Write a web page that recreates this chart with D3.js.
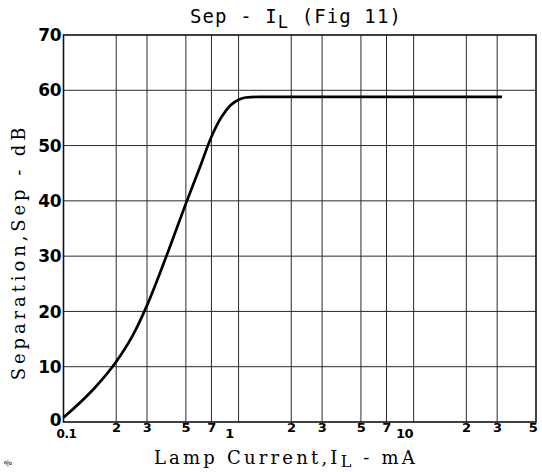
<!DOCTYPE html>
<html><head><meta charset="utf-8">
<script src="https://cdn.jsdelivr.net/npm/d3@7"></script>
<style>
html,body{margin:0;padding:0;background:#fff;overflow:hidden;}
svg{display:block;}
</style></head>
<body>
<svg id="chart" width="542" height="472"></svg>
<script>
// ---- data ----
const currentMA = [0.1, 0.15, 0.2, 0.25, 0.3, 0.4, 0.5, 0.6, 0.7, 0.8, 0.9, 1.0, 1.1, 1.3, 3, 10, 32];
const separationDB = [0.8, 6.1, 10.9, 15.8, 21.1, 31.2, 39.5, 46.0, 51.6, 55.2, 57.3, 58.3, 58.7, 58.8, 58.8, 58.8, 58.8];
const xTicks = [0.1, 0.2, 0.3, 0.5, 0.7, 1, 2, 3, 5, 7, 10, 20, 30, 50];
const xTickLabels = ["0.1", "2", "3", "5", "7", "1", "2", "3", "5", "7", "10", "2", "3", "5"];
const yTicks = [0, 10, 20, 30, 40, 50, 60, 70];
const yTickLabels = ["0", "10", "20", "30", "40", "50", "60", "70"];
const titleText = ["Sep - I", "L", " (Fig 11)"];
const xTitle = ["Lamp Current,I", "L", " - mA"];
const yTitle = "Separation,Sep - dB";

// ---- chart ----
const svg = d3.select("#chart");
const x = d3.scaleLog().domain([0.1, 50]).range([63.5, 536]);
const y = d3.scaleLinear().domain([0, 70]).range([422, 35]);

const grid = svg.append("g").attr("stroke", "#2a2a2a").attr("stroke-width", 1).attr("fill", "none");
grid.selectAll("line.v").data(xTicks.slice(1, -1)).join("line")
  .attr("x1", d => x(d)).attr("x2", d => x(d)).attr("y1", y(70)).attr("y2", y(0));
grid.selectAll("line.h").data(yTicks.slice(1, -1)).join("line")
  .attr("x1", x(0.1)).attr("x2", x(50)).attr("y1", d => y(d)).attr("y2", d => y(d));

svg.append("rect").attr("x", x(0.1)).attr("y", y(70))
  .attr("width", x(50) - x(0.1)).attr("height", y(0) - y(70))
  .attr("fill", "none").attr("stroke", "#111").attr("stroke-width", 1.6);

const line = d3.line().x((d, i) => x(currentMA[i])).y((d, i) => y(separationDB[i])).curve(d3.curveMonotoneX);
svg.append("path").datum(currentMA).attr("d", line)
  .attr("fill", "none").attr("stroke", "#000").attr("stroke-width", 2.7).attr("stroke-linejoin", "round");

// y tick labels
svg.append("g").selectAll("text").data(yTicks).join("text")
  .attr("x", 61).attr("y", d => y(d) - (d === 0 ? 2 : 0)).attr("dy", "0.36em")
  .attr("text-anchor", "end")
  .attr("font-family", "DejaVu Sans").attr("font-weight", "bold").attr("font-size", 17)
  .attr("letter-spacing", -0.5)
  .text((d, i) => yTickLabels[i]);

// x tick labels
const isDecade = d => Math.abs(Math.log10(d) - Math.round(Math.log10(d))) < 1e-9;
const nX = xTicks.length;
svg.append("g").selectAll("text").data(xTicks).join("text")
  .attr("x", (d, i) => !isDecade(d) ? (i === nX - 1 ? x(d) - 3 : x(d)) : (i === 0 ? x(d) + 3 : x(d) - 9))
  .attr("y", d => isDecade(d) ? 438 : 432)
  .attr("text-anchor", "middle")
  .attr("font-family", "DejaVu Sans").attr("font-weight", "bold")
  .attr("font-size", (d, i) => i === 0 ? 12 : 13)
  .attr("letter-spacing", -0.5)
  .text((d, i) => xTickLabels[i]);

// title
const t = svg.append("text").attr("x", 296).attr("y", 23).attr("text-anchor", "middle")
  .attr("font-family", "DejaVu Sans Mono").attr("font-size", 19).attr("letter-spacing", 1.1);
t.append("tspan").text(titleText[0]);
t.append("tspan").attr("dy", 5).attr("font-size", 17).text(titleText[1]);
t.append("tspan").attr("dy", -5).text(titleText[2]);

// x axis title
const xt = svg.append("text").attr("x", 286).attr("y", 464).attr("text-anchor", "middle")
  .attr("font-family", "DejaVu Serif").attr("font-size", 18).attr("letter-spacing", 3.2);
xt.append("tspan").text(xTitle[0]);
xt.append("tspan").attr("dy", 3).attr("font-size", 16).text(xTitle[1]);
xt.append("tspan").attr("dy", -3).text(xTitle[2]);

// y axis title
svg.append("text").attr("transform", "translate(25,252) rotate(-90)")
  .attr("text-anchor", "middle")
  .attr("font-family", "DejaVu Serif").attr("font-size", 18).attr("letter-spacing", 3.9)
  .text(yTitle);

// scan mark
svg.append("text").attr("x", 4).attr("y", 466).attr("font-family", "DejaVu Sans")
  .attr("font-size", 8).attr("transform", "rotate(-30,8,463)").text("%");
</script>
</body></html>
